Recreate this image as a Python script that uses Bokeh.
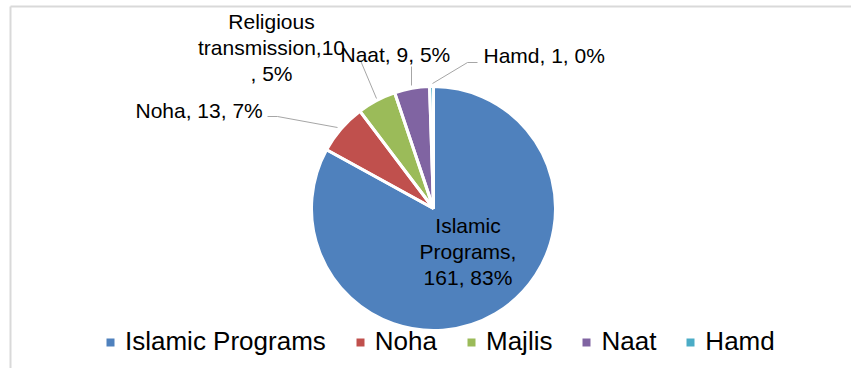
import numpy as np
from bokeh.plotting import figure
from bokeh.models import Range1d, ColumnDataSource
from bokeh.core.properties import value
from bokeh.embed import file_html
from bokeh.resources import INLINE

# ---- data ----
categories = ["Islamic Programs", "Noha", "Majlis", "Naat", "Hamd"]
counts = [161, 13, 10, 9, 1]
data_labels = ["Islamic\nPrograms,\n161, 83%", "Noha, 13, 7%",
               "Religious\ntransmission,10\n, 5%", "Naat, 9, 5%", "Hamd, 1, 0%"]
colors = ["#4F81BD", "#C0504D", "#9BBB59", "#8064A2", "#4BACC6"]

W, H = 851, 368
def Y(v):
    return H - v

FONT = value("Liberation Sans")

total = float(sum(counts))
frac = np.array(counts) / total
cum = np.concatenate([[0.0], np.cumsum(frac)])
start = np.pi / 2 - cum[:-1] * 2 * np.pi
end = np.pi / 2 - cum[1:] * 2 * np.pi

src = ColumnDataSource(dict(cat=categories, start=start, end=end, color=colors))

p = figure(width=W, height=H, x_range=Range1d(0, W), y_range=Range1d(0, H),
           output_backend="svg", toolbar_location=None, min_border=0)
p.axis.visible = False
p.grid.visible = False
p.outline_line_color = None
p.background_fill_color = "white"
p.border_fill_color = "white"

# chart area border (top and left visible)
p.multi_line(xs=[[10, W + 5], [10, 10]], ys=[[Y(6), Y(6)], [Y(6), Y(H + 5)]],
             line_color="#D9D9D9", line_width=2)

cx, cy, r = 433, Y(208), 122
p.wedge(x=cx, y=cy, radius=r, start_angle="start", end_angle="end", direction="clock",
        fill_color="color", line_color=None, source=src, legend_field="cat")
p.wedge(x=cx, y=cy, radius=r, start_angle="start", end_angle="end", direction="clock",
        fill_color=None, line_color="white", line_width=3, source=src)

# leader lines
p.multi_line(xs=[[267, 277, 337], [360, 376], [411, 411], [477, 467, 432]],
             ys=[[Y(116), Y(116), Y(127)], [Y(60), Y(98)], [Y(66), Y(85)], [Y(62), Y(62), Y(83)]],
             line_color="#A6A6A6", line_width=1)

# data labels
centered = [0, 2]
lefts = [1, 3, 4]
cx_lab = {0: 467.5, 2: 271}
cy_lab = {0: 251, 2: 47}
p.text(x=[cx_lab[i] for i in centered], y=[Y(cy_lab[i]) for i in centered],
       text=[data_labels[i] for i in centered], text_align="center", text_baseline="middle",
       text_font=FONT, text_font_size="21px", text_color="#000000", text_line_height=1.15)
lx = {1: 135, 3: 340, 4: 483}
ly = {1: 110, 3: 54, 4: 55}
p.text(x=[lx[i] for i in lefts], y=[Y(ly[i]) for i in lefts],
       text=[data_labels[i] for i in lefts], text_align="left", text_baseline="middle",
       text_font=FONT, text_font_size="21px", text_color="#000000")

lg = p.legend[0]
lg.orientation = "horizontal"
lg.location = (105, 11)
lg.padding = 0
lg.margin = 0
lg.spacing = 29
lg.glyph_width = 10
lg.glyph_height = 10
lg.label_standoff = 10
lg.label_text_font = "Liberation Sans"
lg.label_text_font_size = "26px"
lg.label_text_color = "#000000"
lg.border_line_alpha = 0
lg.background_fill_alpha = 0

open("out.html", "w").write(file_html(p, INLINE))
